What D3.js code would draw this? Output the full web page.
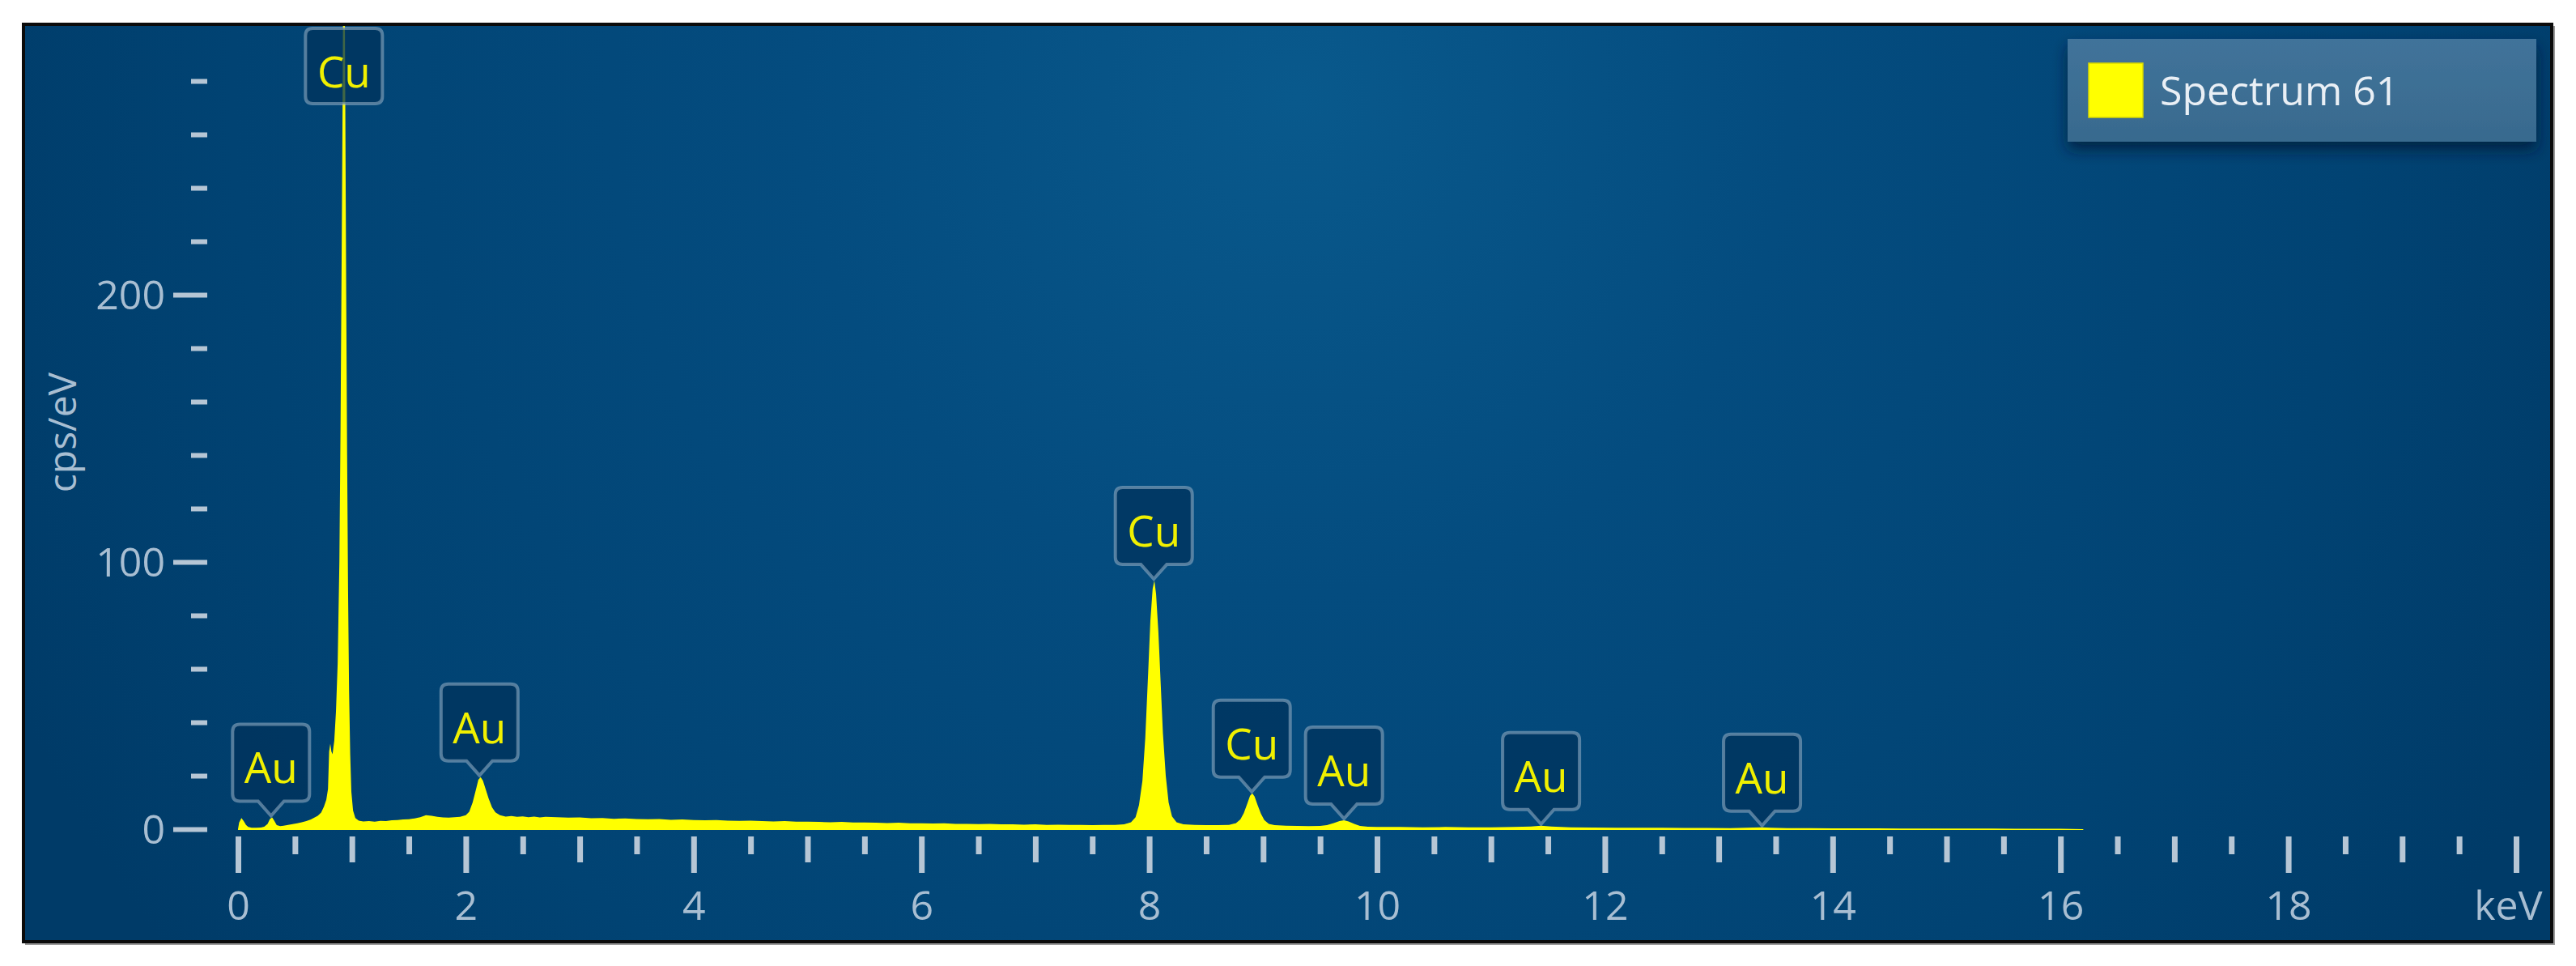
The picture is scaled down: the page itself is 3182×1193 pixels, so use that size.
<!DOCTYPE html>
<html><head><meta charset="utf-8">
<script src="https://cdn.jsdelivr.net/npm/d3@7"></script>
<style>
html,body{margin:0;padding:0;background:#ffffff;}
svg{display:block;}
text{font-family:"Open Sans","Noto Sans","DejaVu Sans",sans-serif;}
</style></head><body>
<svg id="chart" width="3182" height="1193"></svg>
<script>
// ---------------- DATA ----------------
const energyKeV = [
 0.00,0.01,0.03,0.05,0.07,0.09,0.12,0.16,0.20,0.23,0.26,0.28,0.30,0.32,0.34,0.37,0.40,0.44,0.48,0.52,0.56,0.60,0.64,0.67,0.70,
 0.73,0.755,0.775,0.79,0.80,0.81,0.82,0.83,0.845,0.86,0.875,0.89,0.90,0.91,0.918,0.925,0.935,0.942,0.95,0.958,0.966,0.975,0.985,0.995,1.01,1.03,1.06,1.10,
 1.15,1.20,1.25,1.30,1.35,1.40,1.45,1.50,1.55,1.60,1.65,1.70,1.75,1.80,1.85,1.90,1.95,2.00,
 2.03,2.06,2.09,2.11,2.13,2.15,2.17,2.20,2.23,2.26,2.30,2.35,2.40,2.45,2.50,2.55,2.60,2.65,2.70,2.80,2.90,
 3.00,3.10,3.20,3.30,3.40,3.50,3.60,3.70,3.80,3.90,4.00,4.10,4.20,4.30,4.40,4.50,4.60,4.70,4.80,4.90,
 5.00,5.10,5.20,5.30,5.40,5.50,5.60,5.70,5.80,5.90,6.00,6.10,6.20,6.30,6.40,6.50,6.60,6.70,6.80,6.90,
 7.00,7.10,7.20,7.30,7.40,7.50,7.60,7.70,7.78,7.84,7.88,7.91,7.94,7.965,7.99,8.01,8.03,8.045,8.06,8.08,8.10,8.12,8.145,8.17,8.20,8.24,8.30,
 8.40,8.50,8.60,8.70,8.76,8.80,8.83,8.86,8.885,8.905,8.925,8.95,8.98,9.01,9.05,9.10,9.20,9.30,9.40,9.50,
 9.56,9.62,9.67,9.71,9.75,9.80,9.85,9.92,10.0,10.2,10.4,10.6,10.8,11.0,11.2,11.35,11.44,11.53,11.7,11.9,
 12.1,12.3,12.5,12.7,12.9,13.1,13.3,13.38,13.46,13.6,13.8,14.0,14.2,14.4,14.6,14.8,15.0,15.2,15.4,15.6,15.8,16.0,16.1,16.2
];
const countsCpsPerEv = [
 0.0,2.5,4.2,3.0,1.6,0.8,0.5,0.5,0.6,0.9,2.0,3.8,4.4,3.0,1.5,1.1,1.3,1.6,1.9,2.2,2.6,3.0,3.6,4.3,5.0,
 6.2,8.5,11,15,29,32,29,28,33,44,62,100,150,215,270,330,330,270,200,140,90,52,28,14,7,4.2,3.2,2.9,
 3.0,2.8,3.1,3.0,3.3,3.4,3.6,3.7,4.0,4.5,5.2,5.0,4.6,4.4,4.3,4.5,4.6,5.2,
 6.5,10,15,18.5,19.5,18.2,15.5,11.5,8.2,6.3,5.2,4.7,4.9,4.6,4.8,4.5,4.7,4.4,4.6,4.5,4.3,
 4.4,4.1,4.2,3.9,4.0,3.8,3.7,3.8,3.5,3.6,3.4,3.3,3.4,3.2,3.1,3.2,3.0,2.9,3.0,2.8,
 2.8,2.7,2.6,2.7,2.5,2.5,2.4,2.3,2.4,2.2,2.2,2.1,2.2,2.0,2.0,1.9,2.0,1.8,1.8,1.7,
 1.8,1.6,1.7,1.6,1.6,1.5,1.6,1.6,1.8,2.6,4.5,9,18,34,58,78,90,93,88,74,55,36,20,10,4.8,2.6,1.8,
 1.6,1.5,1.5,1.6,2.2,3.6,6,9.5,12.5,13.4,12.2,9.2,5.8,3.4,2.0,1.5,1.3,1.2,1.1,1.2,
 1.5,2.3,3.0,3.3,2.9,2.0,1.2,0.9,0.8,0.8,0.7,0.8,0.7,0.7,0.8,1.0,1.3,1.0,0.7,0.6,
 0.55,0.5,0.5,0.45,0.45,0.4,0.6,0.7,0.5,0.4,0.35,0.3,0.3,0.28,0.25,0.25,0.22,0.2,0.2,0.18,0.15,0.12,0.08,0.0
];
const peakNames    = ["Au","Cu","Au","Cu","Cu","Au","Au","Au"];
const peakEnergies = [0.29,0.93,2.12,8.04,8.90,9.71,11.44,13.38];

const yMajorTicks = [0,100,200];
const yMinorTicks = [20,40,60,80,120,140,160,180,220,240,260,280];
const xMajorTicks = [0,2,4,6,8,10,12,14,16,18,20];
const xTickLabels = ["0","2","4","6","8","10","12","14","16","18","keV"];
const xMediumTicks = [1,3,5,7,9,11,13,15,17,19];
const xMinorTicks = [0.5,1.5,2.5,3.5,4.5,5.5,6.5,7.5,8.5,9.5,10.5,11.5,12.5,13.5,14.5,15.5,16.5,17.5,18.5,19.5];
const yAxisTitle = "cps/eV";
const legendLabel = "Spectrum 61";
const xDomain = [0,20];
const yDomain = [0,300];

// ---------------- LAYOUT ----------------
const frame = {x:29, y:30, w:3123, h:1133};
const plot = {left:294, right:3108, bottom:1024, top:34};

const svg = d3.select("#chart");
const defs = svg.append("defs");

const grad = defs.append("radialGradient").attr("id","bg")
  .attr("gradientUnits","userSpaceOnUse")
  .attr("cx",1600).attr("cy",120).attr("r",1750);
grad.append("stop").attr("offset","0").attr("stop-color","#09598c");
grad.append("stop").attr("offset","0.35").attr("stop-color","#044c7f");
grad.append("stop").attr("offset","0.75").attr("stop-color","#014373");
grad.append("stop").attr("offset","1").attr("stop-color","#003b68");

const lg = defs.append("linearGradient").attr("id","legbg").attr("x1",0).attr("y1",0).attr("x2",0).attr("y2",1);
lg.append("stop").attr("offset","0").attr("stop-color","#41739a");
lg.append("stop").attr("offset","1").attr("stop-color","#386a8e");

const sh = defs.append("filter").attr("id","shadow").attr("x","-10%").attr("y","-20%").attr("width","120%").attr("height","160%");
sh.append("feDropShadow").attr("dx",0).attr("dy",10).attr("stdDeviation",9).attr("flood-color","#001c36").attr("flood-opacity",0.75);

defs.append("clipPath").attr("id","plotclip").append("rect")
  .attr("x",frame.x+2).attr("y",frame.y+2).attr("width",frame.w-4).attr("height",frame.h-4);

// outer subtle shadow + frame
svg.append("rect").attr("x",frame.x+2).attr("y",frame.y+2).attr("width",frame.w+2).attr("height",frame.h+2)
  .attr("fill","#9a9a9a");
svg.append("rect").attr("x",frame.x).attr("y",frame.y).attr("width",frame.w).attr("height",frame.h)
  .attr("fill","url(#bg)").attr("stroke","#0b0b0b").attr("stroke-width",4);

const x = d3.scaleLinear().domain(xDomain).range([plot.left, plot.right]);
const y = d3.scaleLinear().domain(yDomain).range([plot.bottom, plot.top]);

const tickColor = "#b6c6d5";
const labelColor = "#a8bed2";

// ---------------- Y AXIS ----------------
const yAxisX = 256;
const gyMinor = svg.append("g").attr("transform",`translate(${yAxisX},0)`)
  .call(d3.axisLeft(y).tickValues(yMinorTicks).tickSize(20).tickFormat(""));
const gyMajor = svg.append("g").attr("transform",`translate(${yAxisX},0)`)
  .call(d3.axisLeft(y).tickValues(yMajorTicks).tickSize(42).tickPadding(10).tickFormat(d3.format("d")));
[gyMinor, gyMajor].forEach(g=>{
  g.select(".domain").remove();
  g.selectAll(".tick line").attr("stroke",tickColor).attr("stroke-width",6);
  g.selectAll(".tick text").attr("fill",labelColor).attr("font-size",50).attr("dy","0.34em");
});

svg.append("text").text(yAxisTitle)
  .attr("transform","translate(94,534) rotate(-90)")
  .attr("text-anchor","middle").attr("fill",labelColor).attr("font-size",48);

// ---------------- X AXIS ----------------
const xAxisY = plot.bottom + 9;
function xTicks(vals, size){
  const g = svg.append("g").attr("transform",`translate(0,${xAxisY})`)
    .call(d3.axisBottom(x).tickValues(vals).tickSize(size).tickFormat(""));
  g.select(".domain").remove();
  g.selectAll(".tick line").attr("stroke",tickColor).attr("stroke-width",7);
  return g;
}
xTicks(xMinorTicks, 22);
xTicks(xMediumTicks, 32);
const gxMajor = svg.append("g").attr("transform",`translate(0,${xAxisY})`)
  .call(d3.axisBottom(x).tickValues(xMajorTicks).tickSize(45).tickPadding(22)
    .tickFormat((d,i)=>xTickLabels[i]));
gxMajor.select(".domain").remove();
gxMajor.selectAll(".tick line").attr("stroke",tickColor).attr("stroke-width",7);
gxMajor.selectAll(".tick text").attr("fill",labelColor).attr("font-size",50);
gxMajor.selectAll(".tick text").filter((d,i)=>xTickLabels[i]==="keV")
  .attr("text-anchor","end").attr("x",32);

// ---------------- SPECTRUM ----------------
const data = energyKeV.map((e,i)=>({e, c:countsCpsPerEv[i]}));
const area = d3.area().x(d=>x(d.e)).y0(y(0)+1).y1(d=>y(d.c)).curve(d3.curveLinear);
svg.append("g").attr("clip-path","url(#plotclip)")
  .append("path").datum(data).attr("d",area).attr("fill","#ffff00");

// ---------------- PEAK LABELS ----------------
const boxW = 95, boxH = 95, boxR = 9, ptrW = 16, ptrH = 18;
function calloutPath(cx, apexY){
  const b = apexY - ptrH, t = b - boxH, l = cx - boxW/2, r = cx + boxW/2;
  return `M${l+boxR},${t} H${r-boxR} Q${r},${t} ${r},${t+boxR} V${b-boxR} Q${r},${b} ${r-boxR},${b} `+
         `H${cx+ptrW} L${cx},${apexY} L${cx-ptrW},${b} H${l+boxR} Q${l},${b} ${l},${b-boxR} V${t+boxR} Q${l},${t} ${l+boxR},${t} Z`;
}
const labelsG = svg.append("g").attr("clip-path","url(#plotclip)");
peakNames.forEach((name,i)=>{
  const e = peakEnergies[i];
  const near = data.filter(d=>Math.abs(d.e-e)<=0.035);
  const pk = d3.max(near, d=>d.c);
  const cx = x(e);
  let top, pathD;
  const apex = y(Math.min(pk, yDomain[1])) - 2;
  if (apex - ptrH - boxH < frame.y + 4){
    top = frame.y + 5;
    const l = cx - boxW/2, hh = boxH - 2;
    pathD = `M${l+boxR},${top} H${l+boxW-boxR} Q${l+boxW},${top} ${l+boxW},${top+boxR} V${top+hh-boxR} Q${l+boxW},${top+hh} ${l+boxW-boxR},${top+hh} H${l+boxR} Q${l},${top+hh} ${l},${top+hh-boxR} V${top+boxR} Q${l},${top} ${l+boxR},${top} Z`;
  } else {
    top = apex - ptrH - boxH;
    pathD = calloutPath(cx, apex);
  }
  labelsG.append("path").attr("d",pathD)
    .attr("fill","#00335c").attr("fill-opacity",0.75)
    .attr("stroke","#8eaac2").attr("stroke-opacity",0.6).attr("stroke-width",4);
  labelsG.append("text").text(name)
    .attr("x",cx).attr("y",top + boxH/2 + 5)
    .attr("text-anchor","middle").attr("dominant-baseline","central")
    .attr("fill","#f0f000").attr("font-size",53);
});

// ---------------- LEGEND ----------------
const leg = svg.append("g");
leg.append("rect").attr("x",2554).attr("y",48).attr("width",579).attr("height",127)
  .attr("fill","url(#legbg)").attr("filter","url(#shadow)");
leg.append("rect").attr("x",2580).attr("y",78).attr("width",67).attr("height",67)
  .attr("fill","#ffff00").attr("stroke","#d8d800").attr("stroke-width",1.5);
leg.append("text").text(legendLabel).attr("x",2668).attr("y",130)
  .attr("fill","#e9eff5").attr("font-size",50);
</script>
</body></html>
